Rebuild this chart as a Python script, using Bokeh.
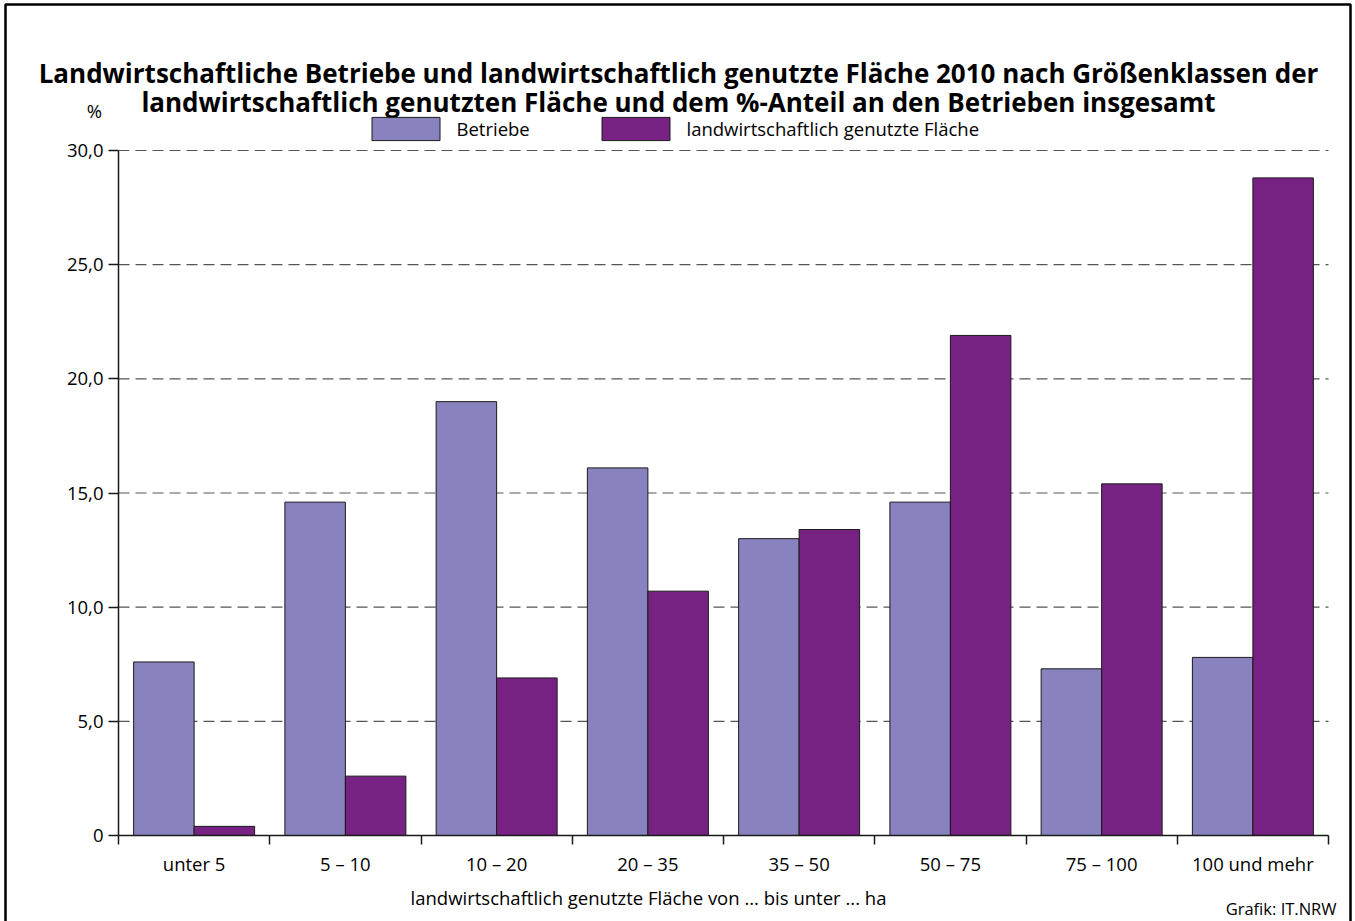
from bokeh.plotting import figure
from bokeh.models import (Range1d, FixedTicker, Label, Legend, LegendItem,
                          BoxAnnotation, ColumnDataSource)
from bokeh.transform import dodge
from bokeh.embed import file_html
from bokeh.resources import INLINE

# ---------------- data ----------------
categories = ["unter 5", "5 – 10", "10 – 20", "20 – 35", "35 – 50",
              "50 – 75", "75 – 100", "100 und mehr"]
betriebe = [7.6, 14.6, 19.0, 16.1, 13.0, 14.6, 7.3, 7.8]
flaeche = [0.4, 2.6, 6.9, 10.7, 13.4, 21.9, 15.4, 28.8]
series_names = ["Betriebe", "landwirtschaftlich genutzte Fläche"]
y_ticks = [0, 5, 10, 15, 20, 25, 30]
y_tick_labels = ["0", "5,0", "10,0", "15,0", "20,0", "25,0", "30,0"]
title_lines = [
    "Landwirtschaftliche Betriebe und landwirtschaftlich genutzte Fläche 2010 nach Größenklassen der",
    "landwirtschaftlich genutzten Fläche und dem %-Anteil an den Betrieben insgesamt",
]
y_unit = "%"
x_title = "landwirtschaftlich genutzte Fläche von ... bis unter ... ha"
credit = "Grafik: IT.NRW"

# ---------------- layout / styling ----------------
FONT = "Open Sans"
TXT = "18.5px"
C_B = "#8883be"
C_F = "#772282"

W, H = 1355, 921
AX_L, AX_R = 118, 1328     # x of first and last category boundary
AX_T, AX_B = 150, 835      # y of value 30 and value 0
Y_MAX = 30

n = len(categories)
ppx = (AX_R - AX_L) / n
ppy = (AX_B - AX_T) / Y_MAX
x_range = Range1d(-AX_L / ppx, n + (W - AX_R) / ppx)
y_range = Range1d(-(H - AX_B) / ppy, Y_MAX + AX_T / ppy)

centers = [i + 0.5 for i in range(n)]
src = ColumnDataSource(dict(x=centers, cat=categories, b=betriebe, f=flaeche))
grid_src = ColumnDataSource(dict(y=[t for t in y_ticks if t > 0]))

p = figure(width=W, height=H, output_backend="svg", toolbar_location=None,
           x_range=x_range, y_range=y_range, min_border=0)
p.outline_line_color = None
p.background_fill_color = "white"
p.border_fill_color = "white"
p.xgrid.visible = False
p.ygrid.visible = False

# dashed horizontal grid lines, only across the plot area
p.segment(x0=0, x1=n, y0="y", y1="y", source=grid_src, line_color="#555555",
          line_width=1.2, line_dash="11 6", level="underlay")

r_b = p.vbar(x=dodge("x", -0.2, range=p.x_range), top="b", width=0.4, source=src,
             fill_color=C_B, line_color="#1a1a1a", line_width=1)
r_f = p.vbar(x=dodge("x", 0.2, range=p.x_range), top="f", width=0.4, source=src,
             fill_color=C_F, line_color="#1a1a1a", line_width=1)

# x axis: labels at centres, ticks at category boundaries
xa = p.xaxis[0]
xa.fixed_location = 0
xa.bounds = (0, n)
xa.ticker = FixedTicker(ticks=centers, minor_ticks=list(range(n + 1)))
xa.major_label_overrides = {c: cat for c, cat in zip(centers, categories)}
xa.major_tick_out = 0
xa.major_tick_in = 0
xa.minor_tick_out = 9
xa.minor_tick_in = 0
xa.minor_tick_line_color = "#1a1a1a"
xa.minor_tick_line_width = 1.5
xa.axis_line_color = "#1a1a1a"
xa.axis_line_width = 1.5
xa.major_label_text_font = FONT
xa.major_label_text_font_size = TXT
xa.major_label_text_color = "black"
xa.major_label_standoff = 6

ya = p.yaxis[0]
ya.fixed_location = 0
ya.bounds = (0, Y_MAX)
ya.ticker = FixedTicker(ticks=y_ticks)
ya.major_label_overrides = {t: l for t, l in zip(y_ticks, y_tick_labels)}
ya.major_tick_out = 10
ya.major_tick_in = 0
ya.major_tick_line_color = "#1a1a1a"
ya.major_tick_line_width = 1.5
ya.minor_tick_line_color = None
ya.axis_line_color = "#1a1a1a"
ya.axis_line_width = 1.5
ya.major_label_text_font = FONT
ya.major_label_text_font_size = TXT
ya.major_label_text_color = "black"
ya.major_label_standoff = 5


def sy(canvas_y):
    return H - canvas_y


# outer frame
p.add_layout(BoxAnnotation(left=5, right=1350, top=sy(4), bottom=-60,
                           left_units="screen", right_units="screen",
                           top_units="screen", bottom_units="screen",
                           fill_alpha=0, line_color="black", line_alpha=1,
                           line_width=2.5))

# title
for line, cy in zip(title_lines, [72, 101]):
    p.add_layout(Label(x=678, y=sy(cy), x_units="screen", y_units="screen",
                       text=line, text_align="center", text_baseline="middle",
                       text_font=FONT, text_font_size="26px", text_font_style="bold",
                       text_color="black"))

p.add_layout(Label(x=94, y=sy(110), x_units="screen", y_units="screen",
                   text=y_unit, text_align="center", text_baseline="middle",
                   text_font=FONT, text_font_size=TXT, text_color="black"))

p.add_layout(Label(x=648, y=sy(897), x_units="screen", y_units="screen",
                   text=x_title, text_align="center", text_baseline="middle",
                   text_font=FONT, text_font_size=TXT, text_color="black"))

p.add_layout(Label(x=1336, y=sy(908), x_units="screen", y_units="screen",
                   text=credit, text_align="right", text_baseline="middle",
                   text_font=FONT, text_font_size="16.5px", text_color="black"))

# legends (area legend glyphs are inset by 10% on each side)
for name, rend, lx in zip(series_names, [r_b, r_f], [362.5, 592.5]):
    lg = Legend(items=[LegendItem(label=name, renderers=[rend])],
                location=(lx, sy(143)), orientation="horizontal",
                glyph_width=85, glyph_height=29, label_standoff=9,
                padding=0, margin=0, spacing=0,
                border_line_color=None, background_fill_alpha=0,
                label_text_font=FONT, label_text_font_size=TXT,
                label_text_color="black", label_height=29)
    p.add_layout(lg, "center")

open("out.html", "w").write(file_html(p, INLINE))
